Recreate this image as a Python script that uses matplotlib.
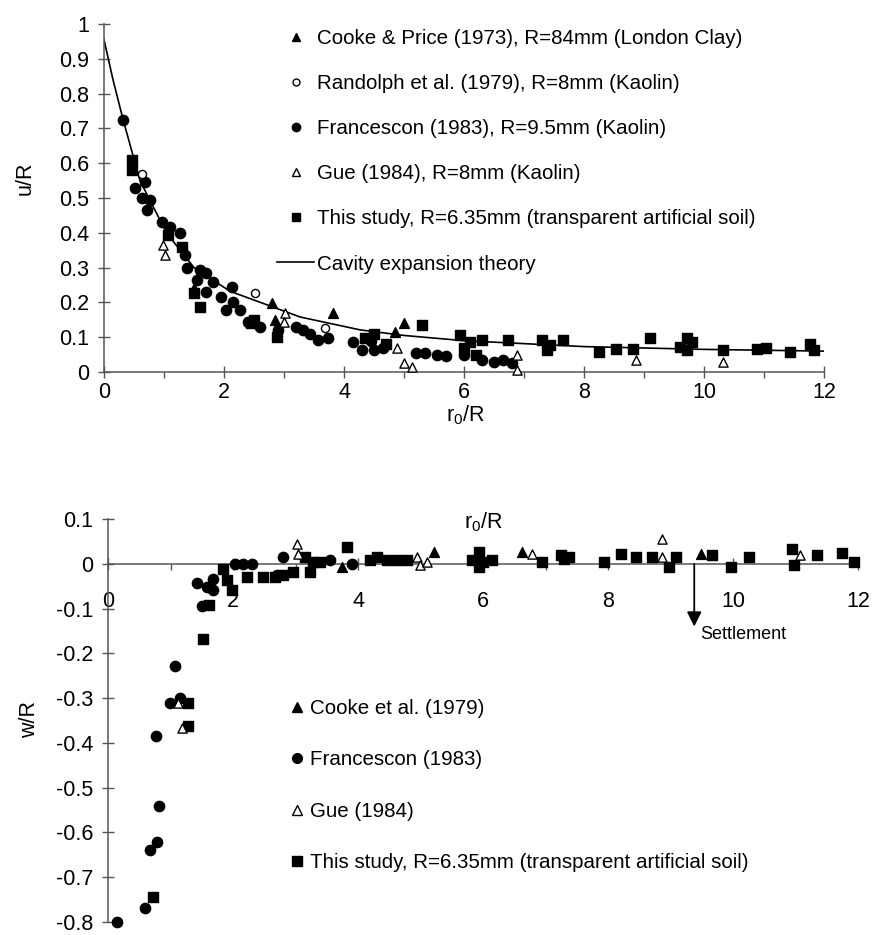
import matplotlib
matplotlib.use("Agg")
import matplotlib.pyplot as plt
from matplotlib.lines import Line2D

plt.rcParams['font.family'] = ['Liberation Sans', 'DejaVu Sans']
plt.rcParams['mathtext.default'] = 'regular'

# ---------------- data: top panel (u/R vs r0/R) ----------------
u_cooke_x = [1.07, 1.50, 2.80, 2.85, 3.82, 4.85, 5.00]
u_cooke_y = [0.40, 0.24, 0.198, 0.15, 0.17, 0.115, 0.14]

u_rand_x = [0.63, 2.52, 3.68]
u_rand_y = [0.57, 0.227, 0.127]

u_fran_x = [0.32, 0.52, 0.68, 0.63, 0.77, 0.71, 0.96, 1.10, 1.27, 1.35, 1.38, 1.60,
            1.55, 1.70, 1.82, 1.70, 2.13, 1.95, 2.15, 2.04, 2.27, 2.40, 2.60, 2.90,
            3.20, 3.32, 3.43, 3.57, 3.73, 4.15, 4.30, 4.45, 4.50, 4.65, 5.20, 5.35,
            5.55, 5.70, 6.00, 6.30, 6.50, 6.65, 6.80]
u_fran_y = [0.724, 0.53, 0.546, 0.50, 0.495, 0.466, 0.43, 0.417, 0.40, 0.336, 0.30, 0.293,
            0.264, 0.284, 0.259, 0.23, 0.245, 0.215, 0.20, 0.178, 0.178, 0.144, 0.13, 0.12,
            0.13, 0.12, 0.11, 0.092, 0.098, 0.085, 0.063, 0.09, 0.063, 0.07, 0.055, 0.055,
            0.05, 0.045, 0.05, 0.035, 0.03, 0.035, 0.025]

u_gue_x = [0.98, 1.02, 3.02, 3.00, 4.88, 5.00, 5.13, 6.88, 6.88, 8.87, 10.32]
u_gue_y = [0.365, 0.336, 0.17, 0.144, 0.068, 0.026, 0.014, 0.049, 0.006, 0.034, 0.029]

u_this_x = [0.47, 0.47, 1.07, 1.30, 1.50, 1.60, 2.50, 2.45, 2.88, 4.35, 4.50, 4.70,
            5.30, 5.93, 6.00, 6.10, 6.20, 6.30, 6.73, 7.30, 7.38, 7.43, 7.65, 8.25,
            8.53, 8.82, 9.10, 9.60, 9.72, 9.72, 9.80, 10.32, 10.88, 11.03, 11.43,
            11.77, 11.83]
u_this_y = [0.61, 0.58, 0.394, 0.36, 0.227, 0.187, 0.15, 0.14, 0.10, 0.098, 0.11, 0.08,
            0.135, 0.106, 0.07, 0.085, 0.05, 0.092, 0.092, 0.092, 0.063, 0.078, 0.092, 0.057,
            0.066, 0.066, 0.098, 0.072, 0.098, 0.063, 0.086, 0.063, 0.066, 0.069, 0.057,
            0.08, 0.063]

theory_x = [0.0, 0.15, 0.32, 0.6, 1.04, 1.5, 2.1, 3.27, 4.27, 5.0, 6.0, 8.0, 10.0, 12.0]
theory_y = [0.955, 0.84, 0.724, 0.55, 0.40, 0.30, 0.232, 0.158, 0.121, 0.105, 0.09, 0.073, 0.065, 0.06]

top_labels = ["Cooke & Price (1973), R=84mm (London Clay)",
              "Randolph et al. (1979), R=8mm (Kaolin)",
              "Francescon (1983), R=9.5mm (Kaolin)",
              "Gue (1984), R=8mm (Kaolin)",
              "This study, R=6.35mm (transparent artificial soil)",
              "Cavity expansion theory"]

# ---------------- data: bottom panel (w/R vs r0/R) ----------------
w_cooke_x = [3.74, 5.22, 6.63, 9.49]
w_cooke_y = [-0.007, 0.027, 0.027, 0.022]

w_fran_x = [0.14, 0.59, 0.67, 0.78, 0.82, 0.77, 1.07, 0.99, 1.15, 1.50, 1.42, 1.58,
            1.68, 1.68, 2.03, 2.16, 2.30, 2.70, 2.80, 3.55, 3.91]
w_fran_y = [-0.80, -0.769, -0.64, -0.622, -0.542, -0.384, -0.229, -0.311, -0.30, -0.095,
            -0.044, -0.051, -0.033, -0.058, 0.0, 0.0, 0.0, -0.025, 0.016, 0.009, 0.0]

w_gue_x = [1.18, 1.12, 3.02, 3.04, 4.94, 4.99, 5.10, 6.79, 8.87, 8.87, 11.07]
w_gue_y = [-0.367, -0.31, 0.044, 0.022, 0.016, -0.002, 0.004, 0.022, 0.056, 0.016, 0.02]

w_this_x = [0.72, 1.28, 1.28, 1.52, 1.62, 1.84, 1.90, 1.98, 2.22, 2.48, 2.67, 2.80,
            2.96, 3.15, 3.28, 3.23, 3.39, 3.82, 4.19, 4.31, 4.47, 4.62, 4.78, 5.94,
            5.83, 6.00, 6.15, 5.94, 6.95, 7.25, 7.38, 7.30, 7.94, 8.21, 8.45, 8.71,
            8.98, 9.09, 9.66, 9.97, 10.26, 10.94, 10.97, 11.34, 11.74, 11.93]
w_this_y = [-0.744, -0.362, -0.311, -0.167, -0.092, -0.011, -0.036, -0.058, -0.029, -0.029,
            -0.029, -0.024, -0.018, 0.016, 0.004, -0.018, 0.004, 0.038, 0.009, 0.016,
            0.009, 0.009, 0.009, 0.027, 0.009, 0.004, 0.009, -0.007, 0.004, 0.02, 0.016,
            0.011, 0.004, 0.022, 0.016, 0.016, -0.007, 0.016, 0.02, -0.007, 0.016, 0.033,
            -0.002, 0.02, 0.024, 0.004]

bottom_labels = ["Cooke et al. (1979)", "Francescon (1983)", "Gue (1984)",
                 "This study, R=6.35mm (transparent artificial soil)"]

top_yticks = [0, 0.1, 0.2, 0.3, 0.4, 0.5, 0.6, 0.7, 0.8, 0.9, 1.0]
top_yticklabels = ["0", "0.1", "0.2", "0.3", "0.4", "0.5", "0.6", "0.7", "0.8", "0.9", "1"]
xticks = [0, 2, 4, 6, 8, 10, 12]
xticklabels = ["0", "2", "4", "6", "8", "10", "12"]
bot_yticks = [0.1, 0, -0.1, -0.2, -0.3, -0.4, -0.5, -0.6, -0.7, -0.8]
bot_yticklabels = ["0.1", "0", "-0.1", "-0.2", "-0.3", "-0.4", "-0.5", "-0.6", "-0.7", "-0.8"]

settle_x = 9.38
settle_tip = -0.14

# ---------------- figure ----------------
W, H = 872, 935
fig = plt.figure(figsize=(W / 100, H / 100), dpi=100)
axc = '#555555'
FS = 15.5
LFS = 14.8

def px(x, y):
    return x / W, 1 - y / H

# top axes
ax1 = fig.add_axes([104 / W, 1 - 372 / H, 720 / W, 348 / H])
ax1.set_xlim(0, 12)
ax1.set_ylim(0, 1)
for s in ['top', 'right']:
    ax1.spines[s].set_visible(False)
for s in ['left', 'bottom']:
    ax1.spines[s].set_color(axc)
    ax1.spines[s].set_linewidth(1.1)

ax1.plot(theory_x, theory_y, color='k', lw=1.2, zorder=2)
ms_f = 55
ax1.scatter(u_fran_x, u_fran_y, marker='o', s=ms_f, color='k', zorder=3, clip_on=False)
ax1.scatter(u_this_x, u_this_y, marker='s', s=50, color='k', zorder=3, clip_on=False)
ax1.scatter(u_cooke_x, u_cooke_y, marker='^', s=50, color='k', zorder=4, clip_on=False)
ax1.scatter(u_rand_x, u_rand_y, marker='o', s=34, facecolor='white', edgecolor='k', lw=1.0, zorder=4, clip_on=False)
ax1.scatter(u_gue_x, u_gue_y, marker='^', s=44, facecolor='white', edgecolor='k', lw=1.0, zorder=4, clip_on=False)

ax1.set_yticks(top_yticks)
ax1.set_yticklabels(top_yticklabels)
ax1.set_xticks(xticks)
ax1.set_xticklabels(xticklabels)
ax1.set_xticks([1, 3, 5, 7, 9, 11], minor=True)
ax1.tick_params(axis='both', which='major', direction='inout', length=9, width=1,
                color=axc, labelsize=FS)
ax1.tick_params(axis='y', which='major', pad=6)
ax1.tick_params(axis='x', which='major', pad=3)
ax1.tick_params(axis='x', which='minor', direction='out', length=4, width=1, color=axc)

fig.text(*px(25, 178), 'u/R', rotation=90, ha='center', va='center', fontsize=FS)
fig.text(*px(465, 415), 'r$_0$/R', ha='center', va='center', fontsize=FS)

top_handles = [
    Line2D([], [], marker='^', color='k', ls='none', ms=6),
    Line2D([], [], marker='o', mfc='white', mec='k', ls='none', ms=5, mew=1),
    Line2D([], [], marker='o', color='k', ls='none', ms=6),
    Line2D([], [], marker='^', mfc='white', mec='k', ls='none', ms=6, mew=1),
    Line2D([], [], marker='s', color='k', ls='none', ms=5.5),
    Line2D([], [], color='k', lw=1.2),
]
fig.legend(top_handles, top_labels, loc='upper left', bbox_to_anchor=px(277, 29),
           frameon=False, fontsize=LFS, borderpad=0, borderaxespad=0,
           handlelength=1.8, handletextpad=0.15, labelspacing=1.27, numpoints=1)

# bottom axes
ax2 = fig.add_axes([108 / W, 1 - 922 / H, 750 / W, 403 / H])
ax2.set_xlim(0, 12)
ax2.set_ylim(-0.8, 0.1)
for s in ['top', 'right']:
    ax2.spines[s].set_visible(False)
ax2.spines['bottom'].set_position(('data', 0))
for s in ['left', 'bottom']:
    ax2.spines[s].set_color(axc)
    ax2.spines[s].set_linewidth(1.1)

ax2.scatter(w_fran_x, w_fran_y, marker='o', s=ms_f, color='k', zorder=3, clip_on=False)
ax2.scatter(w_this_x, w_this_y, marker='s', s=52, color='k', zorder=3, clip_on=False)
ax2.scatter(w_cooke_x, w_cooke_y, marker='^', s=50, color='k', zorder=4, clip_on=False)
ax2.scatter(w_gue_x, w_gue_y, marker='^', s=44, facecolor='white', edgecolor='k', lw=1.0, zorder=4, clip_on=False)

ax2.set_yticks(bot_yticks)
ax2.set_yticklabels(bot_yticklabels)
ax2.set_xticks(xticks)
ax2.set_xticklabels(xticklabels)
ax2.set_xticks([1, 3, 5, 7, 9, 11], minor=True)
ax2.tick_params(axis='both', which='major', direction='inout', length=9, width=1,
                color=axc, labelsize=FS)
ax2.tick_params(axis='y', which='major', pad=6)
ax2.tick_params(axis='x', which='major', pad=15)
ax2.tick_params(axis='x', which='minor', direction='out', length=4, width=1, color=axc)

ax2.annotate('', xy=(settle_x, settle_tip), xytext=(settle_x, 0),
             arrowprops=dict(arrowstyle='-|>', color='k', lw=1.3, mutation_scale=22,
                             shrinkA=0, shrinkB=0))
ax2.text(9.47, -0.157, 'Settlement', ha='left', va='center', fontsize=13)
fig.text(*px(483, 522), 'r$_0$/R', ha='center', va='center', fontsize=FS)
fig.text(*px(30, 720), 'w/R', rotation=90, ha='center', va='center', fontsize=FS)

bot_handles = [
    Line2D([], [], marker='^', color='k', ls='none', ms=7),
    Line2D([], [], marker='o', color='k', ls='none', ms=7),
    Line2D([], [], marker='^', mfc='white', mec='k', ls='none', ms=7, mew=1),
    Line2D([], [], marker='s', color='k', ls='none', ms=6.5),
]
fig.legend(bot_handles, bottom_labels, loc='upper left', bbox_to_anchor=px(290, 699),
           frameon=False, fontsize=LFS, borderpad=0, borderaxespad=0,
           handlelength=0.67, handletextpad=0.29, labelspacing=1.58, numpoints=1)

fig.savefig('out.png', dpi=100)
